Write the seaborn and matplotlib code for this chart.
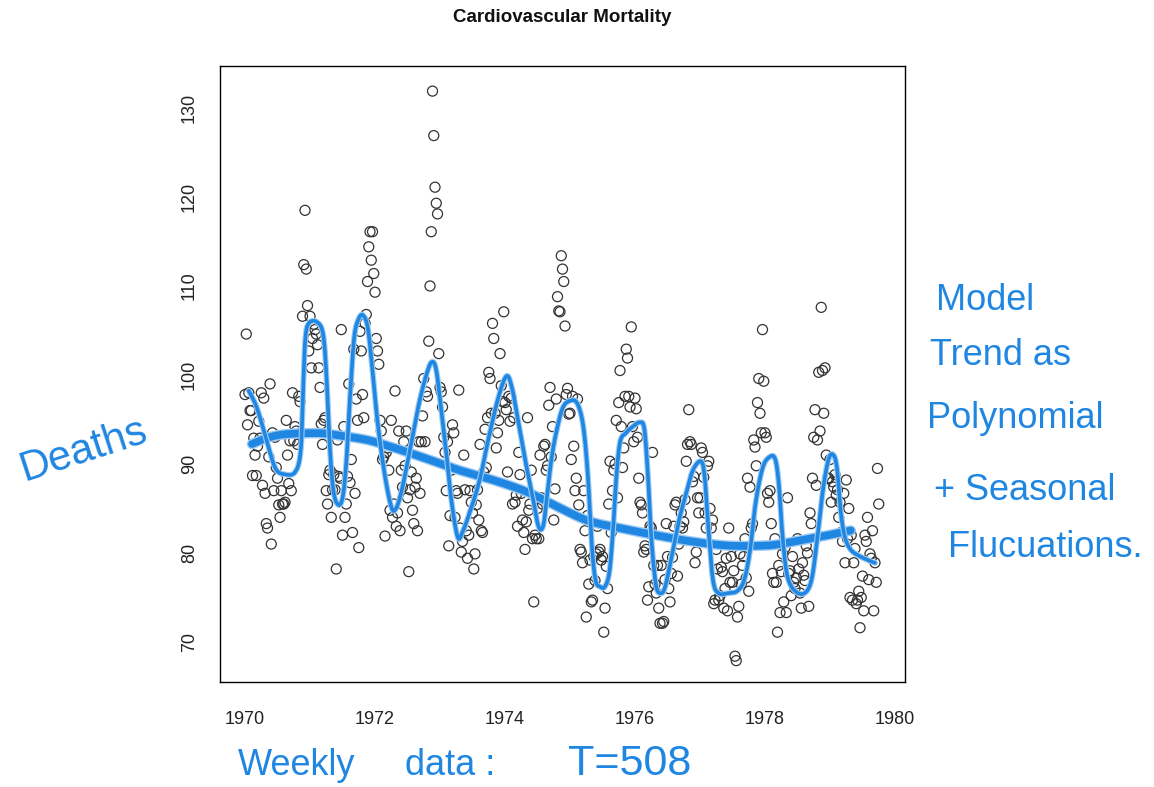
import numpy as np
import pandas as pd
import matplotlib
matplotlib.use("Agg")
import matplotlib.pyplot as plt
import matplotlib.patheffects as pe
import seaborn as sns

# ---------------- data (weekly cardiovascular mortality) ----------------
deaths_1970 = [97.8, 104.6, 94.4, 98.0, 96.0, 96.0, 88.7, 92.9, 91.0, 88.7,
               92.0, 94.8, 92.9, 98.0, 87.6, 97.4, 86.7, 83.3, 82.8, 90.8,
               99.0, 81.0, 93.5, 87.0, 93.0, 89.6, 88.4, 85.4, 84.0, 87.0,
               85.5, 85.5, 85.7, 94.9, 91.0, 87.8, 92.6, 87.0, 98.0, 92.6,
               94.2, 93.7, 92.2, 97.6, 97.0, 93.5, 106.6, 112.4, 118.5, 111.9,
               107.8, 102.7]
deaths_1971 = [106.6, 100.8, 104.1, 105.7, 105.1, 104.6, 103.4, 100.8, 98.6, 94.5,
               92.2, 94.9, 95.2, 87.0, 85.5, 88.8, 89.3, 84.0, 87.1, 88.8,
               87.1, 78.2, 92.7, 88.6, 88.4, 105.1, 82.0, 94.2, 84.0, 85.5,
               88.6, 99.0, 87.9, 90.5, 82.3, 102.9, 86.7, 97.3, 94.9, 80.6,
               104.9, 102.7, 97.8, 95.2, 105.8, 106.8, 110.5, 114.4, 116.1, 112.9,
               116.1, 111.4]
deaths_1972 = [109.3, 104.1, 102.7, 101.2, 94.9, 93.7, 90.5, 90.8, 81.9, 91.3,
               91.8, 89.3, 84.8, 94.9, 84.0, 85.5, 98.2, 83.0, 84.5, 93.7,
               82.5, 89.3, 87.4, 92.5, 89.8, 93.7, 86.2, 77.9, 87.1, 89.1,
               84.8, 83.3, 87.4, 88.4, 82.5, 92.5, 86.7, 92.5, 95.4, 99.6,
               92.5, 98.1, 97.6, 103.8, 110.0, 116.1, 131.9, 126.9, 121.1, 119.3,
               118.1, 102.4]
deaths_1973 = [98.6, 98.1, 96.4, 93.0, 91.3, 87.0, 92.5, 80.8, 84.2, 89.3,
               94.4, 93.5, 84.0, 87.0, 86.7, 98.3, 82.8, 80.1, 81.3, 91.0,
               87.1, 82.5, 79.4, 82.0, 87.0, 85.7, 84.5, 78.2, 79.9, 85.4,
               87.1, 83.7, 92.2, 82.5, 82.3, 89.1, 93.9, 89.6, 95.2, 100.3,
               99.6, 95.7, 105.8, 104.1, 95.7, 91.8, 93.5, 94.9, 102.4, 98.8,
               97.0, 107.1]
deaths_1974 = [96.9, 96.1, 89.1, 97.6, 94.8, 97.4, 85.5, 95.2, 85.7, 86.5,
               83.0, 91.3, 88.8, 86.7, 83.7, 82.3, 80.4, 83.5, 95.2, 84.8,
               85.5, 89.3, 81.6, 74.5, 82.0, 81.6, 85.0, 81.6, 91.0, 86.2,
               85.5, 92.0, 92.2, 89.3, 89.8, 96.6, 98.6, 90.8, 94.2, 83.7,
               87.2, 97.3, 108.8, 107.2, 107.1, 113.4, 111.9, 110.5, 105.5, 97.8,
               98.5, 95.6]
deaths_1975 = [95.7, 90.5, 97.6, 92.0, 87.0, 88.4, 97.3, 85.4, 80.4, 80.1,
               78.9, 87.0, 82.5, 72.8, 84.2, 76.5, 79.2, 74.5, 74.7, 79.6,
               76.9, 79.9, 83.0, 80.1, 80.4, 79.2, 79.6, 71.1, 73.8, 78.5,
               76.0, 85.5, 90.3, 82.3, 87.0, 89.3, 90.0, 94.9, 86.2, 96.9,
               100.5, 94.2, 89.6, 91.8, 97.6, 102.9, 101.9, 97.6, 96.4, 105.4,
               94.2, 92.5]
deaths_1976 = [97.4, 96.2, 93.0, 88.4, 85.7, 85.4, 84.5, 80.1, 80.8, 80.4,
               74.7, 76.2, 83.0, 82.8, 91.3, 78.6, 76.5, 75.5, 78.6, 73.8,
               72.1, 78.6, 72.1, 72.3, 77.0, 83.3, 79.6, 76.0, 74.5, 77.7,
               79.5, 83.0, 85.4, 85.7, 77.4, 81.0, 83.0, 84.5, 82.8, 83.5,
               86.0, 90.3, 92.2, 96.1, 92.5, 92.2, 88.0, 88.6, 78.9, 80.1,
               86.2, 84.5]
deaths_1977 = [86.2, 91.8, 91.3, 88.5, 84.5, 82.8, 89.8, 90.3, 85.0, 82.8,
               83.7, 74.3, 74.7, 80.4, 78.2, 74.7, 75.2, 78.4, 77.9, 73.8,
               76.0, 79.4, 73.5, 82.8, 76.7, 79.6, 76.7, 78.0, 68.4, 67.9,
               72.8, 74.0, 79.9, 76.5, 78.6, 79.6, 81.6, 77.2, 88.4, 75.7,
               87.4, 82.8, 83.3, 92.7, 91.9, 89.8, 96.9, 99.6, 95.7, 93.5,
               105.1, 99.3]
deaths_1978 = [93.5, 93.0, 86.7, 85.7, 87.0, 83.3, 77.7, 76.7, 81.6, 76.7,
               71.1, 78.6, 73.3, 77.9, 79.9, 74.5, 80.6, 73.3, 86.2, 77.7,
               78.0, 75.2, 79.6, 76.7, 76.0, 77.2, 81.6, 78.2, 75.5, 73.8,
               78.9, 77.5, 76.9, 80.8, 80.0, 74.0, 84.5, 83.3, 88.4, 93.0,
               96.1, 87.6, 92.7, 100.3, 93.7, 107.6, 100.5, 95.7, 100.8, 91.0,
               88.4, 88.4]
deaths_1979 = [90.5, 85.7, 88.0, 87.4, 88.8, 86.5, 87.1, 84.0, 85.7, 82.3,
               81.3, 86.7, 78.9, 88.2, 81.6, 85.0, 75.0, 82.0, 74.7, 78.9,
               80.5, 74.3, 74.7, 75.7, 71.6, 75.0, 77.4, 73.5, 82.0, 81.3,
               84.0, 77.0, 79.9, 79.4, 82.5, 73.5, 78.9, 76.7, 89.5, 85.5]

start_year = 1970
weeks_per_year = 52

# hand-drawn annotation curves (time, value)
seasonal_t = [1970.057, 1970.179, 1970.321, 1970.464, 1970.607, 1970.771, 1970.857, 1970.893, 1970.929, 1970.986,
              1971.107, 1971.2, 1971.25, 1971.3, 1971.357, 1971.429, 1971.5, 1971.557, 1971.614, 1971.679,
              1971.75, 1971.821, 1971.893, 1971.964, 1972.036, 1972.143, 1972.25, 1972.321, 1972.414, 1972.536,
              1972.679, 1972.8, 1972.879, 1972.943, 1973.014, 1973.107, 1973.179, 1973.271, 1973.343, 1973.464,
              1973.607, 1973.75, 1973.893, 1974.021, 1974.107, 1974.2, 1974.321, 1974.429, 1974.514, 1974.586,
              1974.643, 1974.714, 1974.8, 1974.893, 1975.0, 1975.107, 1975.2, 1975.271, 1975.336, 1975.393,
              1975.464, 1975.536, 1975.607, 1975.664, 1975.714, 1975.771, 1975.857, 1975.964, 1976.071, 1976.143,
              1976.2, 1976.25, 1976.321, 1976.393, 1976.464, 1976.571, 1976.679, 1976.786, 1976.893, 1977.014,
              1977.071, 1977.129, 1977.2, 1977.286, 1977.429, 1977.571, 1977.679, 1977.771, 1977.857, 1977.964,
              1978.071, 1978.157, 1978.214, 1978.271, 1978.343, 1978.464, 1978.607, 1978.714, 1978.8, 1978.893,
              1978.979, 1979.05, 1979.107, 1979.164, 1979.229, 1979.321, 1979.464, 1979.607, 1979.693]
seasonal_v = [98.22, 96.38, 92.97, 89.57, 88.84, 89.09, 91.52, 98.32, 104.15, 105.85,
              105.95, 104.64, 100.26, 92.49, 87.14, 85.44, 86.17, 90.06, 97.35, 104.15,
              106.34, 106.68, 105.12, 100.26, 94.92, 89.09, 85.2, 84.96, 87.14, 91.52,
              96.86, 100.26, 101.48, 100.51, 96.38, 90.55, 85.69, 81.8, 82.28, 84.71,
              88.11, 92.97, 97.35, 99.87, 98.56, 94.92, 90.06, 86.17, 83.01, 83.01,
              86.17, 90.55, 93.95, 96.38, 97.1, 96.86, 94.43, 89.09, 80.83, 76.94,
              76.21, 76.21, 77.91, 82.77, 88.6, 92.49, 93.46, 94.19, 94.67, 93.95,
              88.6, 81.8, 76.45, 75.48, 76.21, 79.85, 83.74, 86.66, 89.33, 90.3,
              88.6, 82.77, 76.94, 75.48, 75.48, 75.72, 76.94, 80.34, 85.69, 89.57,
              90.79, 90.55, 87.63, 81.8, 77.42, 75.72, 75.48, 76.94, 81.31, 87.14,
              90.55, 91.03, 89.57, 84.71, 81.8, 80.34, 79.61, 79.13, 78.88]
trend_t = [1970.107, 1970.357, 1970.643, 1971.143, 1971.429, 1971.857, 1972.214, 1972.714, 1973.286,
           1973.857, 1974.357, 1974.857, 1975.286, 1975.786, 1976.286, 1976.857, 1977.429, 1978.0,
           1978.286, 1978.643, 1979.0, 1979.321]
trend_v = [92.24, 92.97, 93.36, 93.46, 93.22, 92.73, 92.0, 90.79, 89.33,
           88.1, 86.8, 85.0, 83.6, 82.77, 82.04, 81.31, 80.83, 80.83,
           81.07, 81.56, 82.04, 82.53]

x_ticks = [1970, 1972, 1974, 1976, 1978, 1980]
y_ticks = [70, 80, 90, 100, 110, 120, 130]

title = "Cardiovascular Mortality"
note_left = "Deaths"
note_right = ["Model", "Trend as", "Polynomial", "+ Seasonal", "Flucuations."]
note_bottom = ["Weekly", "data :", "T=508"]

# ---------------- build frame ----------------
deaths = np.concatenate([deaths_1970, deaths_1971, deaths_1972, deaths_1973, deaths_1974,
                         deaths_1975, deaths_1976, deaths_1977, deaths_1978, deaths_1979])
time = start_year + np.arange(len(deaths)) / weeks_per_year
df = pd.DataFrame({"time": time, "deaths": deaths})


def catmull_rom(xs, ys, n=14):
    P = np.column_stack([xs, ys]).astype(float)
    P = np.vstack([P[0], P, P[-1]])
    segs = []
    s = np.linspace(0, 1, n, endpoint=False)[:, None]
    for i in range(1, len(P) - 2):
        p0, p1, p2, p3 = P[i - 1], P[i], P[i + 1], P[i + 2]
        segs.append(0.5 * ((2 * p1) + (-p0 + p2) * s + (2 * p0 - 5 * p1 + 4 * p2 - p3) * s ** 2
                           + (-p0 + 3 * p1 - 3 * p2 + p3) * s ** 3))
    segs.append(P[-2][None, :])
    out = np.vstack(segs)
    return out[:, 0], out[:, 1]


sea_x, sea_y = catmull_rom(seasonal_t, seasonal_v)
tr_x, tr_y = catmull_rom(trend_t, trend_v, n=20)
sea_df = pd.DataFrame({"t": sea_x, "v": sea_y})
tr_df = pd.DataFrame({"t": tr_x, "v": tr_y})

# ---------------- figure ----------------
sns.set_theme(style="white")
plt.rcParams["font.family"] = ["Liberation Sans", "DejaVu Sans"]

W, H = 1154, 787
fig = plt.figure(figsize=(W / 100, H / 100), dpi=100)
ax = fig.add_axes([220 / W, 1 - 682 / H, (905 - 220) / W, (682 - 66) / H])

blue = "#1f86e2"
halo = "#9ccaf3"

sns.scatterplot(data=df, x="time", y="deaths", ax=ax, marker="o", s=52,
                facecolors="none", edgecolor="#333333", linewidth=0.9, zorder=2)

sns.lineplot(data=tr_df, x="t", y="v", sort=False, estimator=None, ax=ax,
             color=blue, linewidth=5.5, zorder=3)
ax.lines[-1].set_path_effects([pe.Stroke(linewidth=7.5, foreground=halo), pe.Normal()])
ax.lines[-1].set_solid_capstyle("round")
sns.lineplot(data=sea_df, x="t", y="v", sort=False, estimator=None, ax=ax,
             color=blue, linewidth=2.6, zorder=4)
ax.lines[-1].set_path_effects([pe.Stroke(linewidth=4.2, foreground=halo), pe.Normal()])
ax.lines[-1].set_solid_capstyle("round")

ax.set_xlim(1969.615, 1980.154)
ax.set_ylim(65.5, 134.72)
ax.set_xticks(x_ticks)
ax.set_yticks(y_ticks)
ax.set_xticklabels([str(v) for v in x_ticks], fontsize=13)
ax.set_yticklabels([str(v) for v in y_ticks], fontsize=13, rotation=90, va="center")
ax.tick_params(axis="both", direction="out", length=7, width=1, color="black", labelcolor="#222222")
ax.tick_params(axis="x", pad=14)
ax.tick_params(axis="y", pad=9)
ax.set_xlabel("")
ax.set_ylabel("")
for sp in ax.spines.values():
    sp.set_visible(True)
    sp.set_color("black")
    sp.set_linewidth(1.0)

fig.text(562 / W, 1 - 18 / H, title, ha="center", va="center", fontsize=13.5,
         fontweight="bold", color="#111111")

hand = dict(color=blue, family=["Liberation Sans", "DejaVu Sans"], fontsize=26)

fig.text(84 / W, 1 - 450 / H, note_left, ha="center", va="center", rotation=18,
         **{**hand, "fontsize": 30})

right_baselines = [310, 365, 428, 500, 557]
right_x = [936, 930, 927, 934, 948]
for txt, yb, xl in zip(note_right, right_baselines, right_x):
    fig.text(xl / W, 1 - yb / H, txt, ha="left", va="baseline", **hand)

bottom_x = [238, 405, 568]
bottom_size = [26, 26, 31]
for txt, xl, fs in zip(note_bottom, bottom_x, bottom_size):
    fig.text(xl / W, 1 - 775 / H, txt, ha="left", va="baseline", **{**hand, "fontsize": fs})

fig.savefig("out.png", dpi=100)
